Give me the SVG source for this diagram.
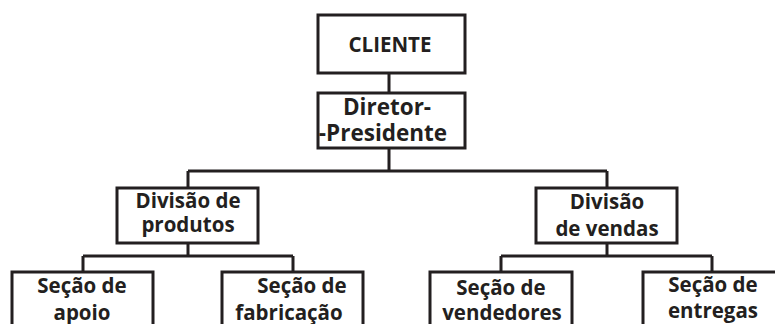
<svg xmlns="http://www.w3.org/2000/svg" width="775" height="324" viewBox="0 0 775 324">
<style>
.box{fill:#fff;stroke:#231f20;stroke-width:3}
.ln{fill:none;stroke:#231f20;stroke-width:3}
text{font-family:"Open Sans","Noto Sans","DejaVu Sans",sans-serif;font-weight:bold;font-size:20.5px;fill:#231f20;text-anchor:middle}
.big{font-size:22.5px}
</style>
<rect width="775" height="324" fill="#fff"/>
<g id="connectors">
<path class="ln" d="M389 73V93M389 148V171M188 171H607M188 171V188M607 171V188M188 243V256M83 256H293M83 256V272M293 256V272M607 243V256M501 256H712M501 256V272M712 256V272"/>
</g>
<g id="cliente"><rect class="box" x="318" y="15" width="147" height="58"/><text x="390" y="52">CLIENTE</text></g>
<g id="diretor"><rect class="box" x="318" y="93" width="147" height="55"/><text class="big" x="387" y="115">Diretor-</text><text class="big" x="383" y="141">-Presidente</text></g>
<g id="div-produtos"><rect class="box" x="117" y="188" width="141" height="55"/><text x="188" y="208">Divisão de</text><text x="188" y="232">produtos</text></g>
<g id="div-vendas"><rect class="box" x="536" y="188" width="141" height="55"/><text x="607" y="209">Divisão</text><text x="607" y="236">de vendas</text></g>
<g id="sec-apoio"><rect class="box" x="12" y="272" width="141" height="70"/><text x="82" y="293">Seção de</text><text x="82" y="320">apoio</text></g>
<g id="sec-fabricacao"><rect class="box" x="222" y="272" width="141" height="70"/><text x="302" y="293">Seção de</text><text x="289" y="320">fabricação</text></g>
<g id="sec-vendedores"><rect class="box" x="430" y="272" width="142" height="70"/><text x="501" y="295">Seção de</text><text x="502" y="320">vendedores</text></g>
<g id="sec-entregas"><rect class="box" x="643" y="272" width="141" height="70"/><text x="713" y="292">Seção de</text><text x="713" y="318">entregas</text></g>
</svg>
